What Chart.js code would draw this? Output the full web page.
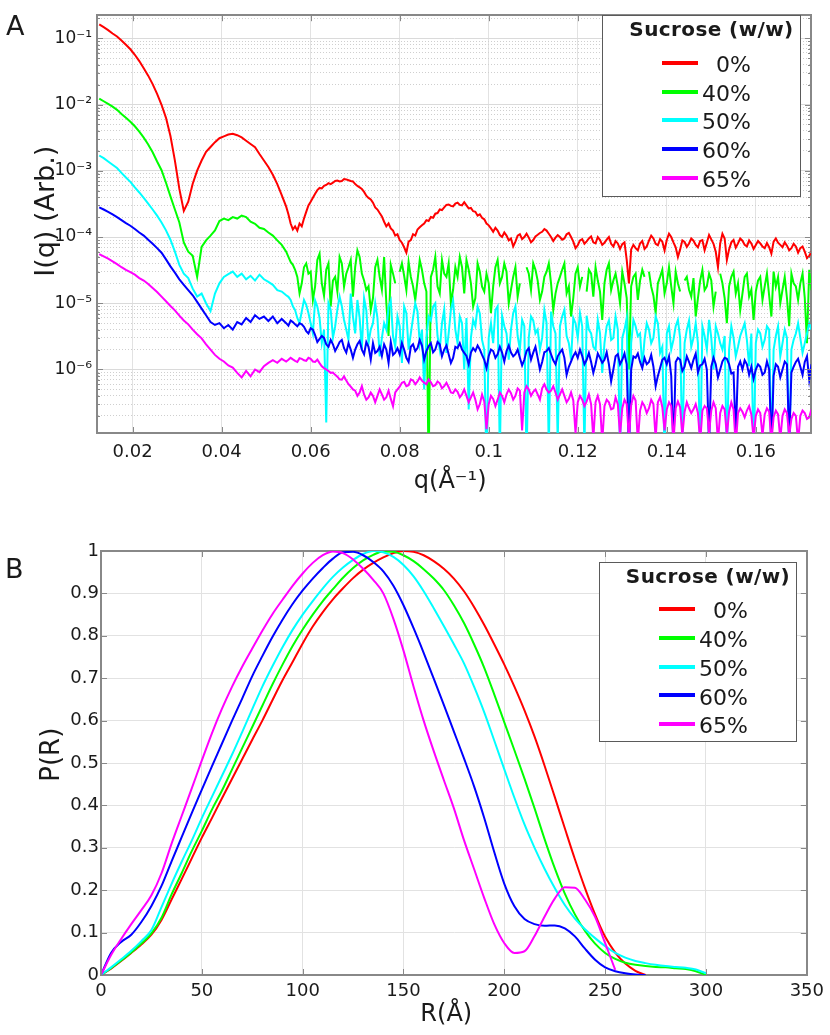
<!DOCTYPE html>
<html>
<head>
<meta charset="utf-8">
<script src="https://cdn.jsdelivr.net/npm/chart.js@4.4.1/dist/chart.umd.min.js"></script>
<style>
  html, body { margin: 0; padding: 0; background: #fff; }
  body { width: 830px; height: 1035px; position: relative; overflow: hidden;
         font-family: "DejaVu Sans", Verdana, sans-serif; color: #1a1a1a; }
  canvas { position: absolute; left: 0; }
  .panel { position: absolute; font-size: 27px; line-height: 1; }
  .lg-box { position: absolute; box-sizing: border-box; border: 1.5px solid #5a5a5a; background: #fff; }
  .lg-title { position: absolute; font-weight: bold; font-size: 20px; line-height: 1;
              letter-spacing: 0.4px; white-space: pre; text-align: center; }
  .lg-line { position: absolute; height: 4px; width: 36px; }
  .lg-text { position: absolute; font-size: 22px; line-height: 1; text-align: right; white-space: pre; }
</style>
</head>
<body>
<canvas id="chartA" width="830" height="500" style="top:0"></canvas>
<canvas id="chartB" width="830" height="500" style="top:535px"></canvas>
<div class="panel" style="left:6px;top:12px">A</div>
<div class="panel" style="left:5px;top:555px">B</div>
<script>
/* Two stacked panels: SAXS curves I(q) on a log axis, and the P(R) distributions. */

Chart.defaults.font.family = '"DejaVu Sans", Verdana, sans-serif';
Chart.defaults.color = "#1a1a1a";

const SERIES_LABELS = ["0%", "40%", "50%", "60%", "65%"];
const SERIES_COLORS = ["#ff0000", "#00ff00", "#00ffff", "#0000ff", "#ff00ff"];
const LEGEND_TITLE = "Sucrose (w/w)";

/* ---- Panel A data: q (1/Å) and intensity per sucrose level.
   Sampled every 0.001 up to 0.0545, every 0.0005 after (noisy part). ---- */
const Q = [
  0.0125,0.0135,0.0145,0.0155,0.0165,0.0175,0.0185,0.0195,0.0205,0.0215,
  0.0225,0.0235,0.0245,0.0255,0.0265,0.0275,0.0285,0.0295,0.0305,0.0315,
  0.0325,0.0335,0.0345,0.0355,0.0365,0.0375,0.0385,0.0395,0.0405,0.0415,
  0.0425,0.0435,0.0445,0.0455,0.0465,0.0475,0.0485,0.0495,0.0505,0.0515,
  0.0525,0.0535,0.0545,
  0.055,0.0555,0.056,0.0565,0.057,0.0575,0.058,0.0585,0.059,0.0595,
  0.060,0.0605,0.061,0.0615,0.062,0.0625,0.063,0.0635,0.064,0.0645,
  0.065,0.0655,0.066,0.0665,0.067,0.0675,0.068,0.0685,0.069,0.0695,
  0.070,0.0705,0.071,0.0715,0.072,0.0725,0.073,0.0735,0.074,0.0745,
  0.075,0.0755,0.076,0.0765,0.077,0.0775,0.078,0.0785,0.079,0.0795,
  0.080,0.0805,0.081,0.0815,0.082,0.0825,0.083,0.0835,0.084,0.0845,
  0.085,0.0855,0.086,0.0865,0.087,0.0875,0.088,0.0885,0.089,0.0895,
  0.090,0.0905,0.091,0.0915,0.092,0.0925,0.093,0.0935,0.094,0.0945,
  0.095,0.0955,0.096,0.0965,0.097,0.0975,0.098,0.0985,0.099,0.0995,
  0.100,0.1005,0.101,0.1015,0.102,0.1025,0.103,0.1035,0.104,0.1045,
  0.105,0.1055,0.106,0.1065,0.107,0.1075,0.108,0.1085,0.109,0.1095,
  0.110,0.1105,0.111,0.1115,0.112,0.1125,0.113,0.1135,0.114,0.1145,
  0.115,0.1155,0.116,0.1165,0.117,0.1175,0.118,0.1185,0.119,0.1195,
  0.120,0.1205,0.121,0.1215,0.122,0.1225,0.123,0.1235,0.124,0.1245,
  0.125,0.1255,0.126,0.1265,0.127,0.1275,0.128,0.1285,0.129,0.1295,
  0.130,0.1305,0.131,0.1315,0.132,0.1325,0.133,0.1335,0.134,0.1345,
  0.135,0.1355,0.136,0.1365,0.137,0.1375,0.138,0.1385,0.139,0.1395,
  0.140,0.1405,0.141,0.1415,0.142,0.1425,0.143,0.1435,0.144,0.1445,
  0.145,0.1455,0.146,0.1465,0.147,0.1475,0.148,0.1485,0.149,0.1495,
  0.150,0.1505,0.151,0.1515,0.152,0.1525,0.153,0.1535,0.154,0.1545,
  0.155,0.1555,0.156,0.1565,0.157,0.1575,0.158,0.1585,0.159,0.1595,
  0.160,0.1605,0.161,0.1615,0.162,0.1625,0.163,0.1635,0.164,0.1645,
  0.165,0.1655,0.166,0.1665,0.167,0.1675,0.168,0.1685,0.169,0.1695,
  0.170,0.1705,0.171,0.1715,0.172,0.1725
];
const I_0 = [
  0.1625,0.147,0.1325,0.1181,0.1063,0.0928,0.0798,0.0682,0.0564,0.0453,
  0.0353,0.0273,0.0203,0.01445,9.92e-3,6.3e-3,3.34e-3,1.42e-3,5.32e-4,2.48e-4,
  3.42e-4,6.37e-4,1.007e-3,1.43e-3,1.93e-3,2.28e-3,2.7e-3,3.1e-3,3.3e-3,3.52e-3,
  3.62e-3,3.44e-3,3.19e-3,2.84e-3,2.54e-3,2.27e-3,1.79e-3,1.43e-3,1.14e-3,8.7e-4,
  6.27e-4,4.3e-4,2.87e-4,
  2.2e-4,1.6e-4,1.3e-4,1.45e-4,1.25e-4,1.6e-4,1.45e-4,1.9e-4,2.4e-4,3.0e-4,
  3.4e-4,3.9e-4,4.5e-4,5.1e-4,5.5e-4,5.4e-4,5.9e-4,6.1e-4,6.5e-4,6.3e-4,
  6.6e-4,7.0e-4,7.1e-4,6.9e-4,7.0e-4,7.5e-4,7.4e-4,7.2e-4,7.0e-4,6.9e-4,
  6.3e-4,5.9e-4,5.6e-4,5.3e-4,4.8e-4,4.2e-4,3.9e-4,3.7e-4,3.3e-4,2.8e-4,
  2.6e-4,2.3e-4,2.05e-4,1.7e-4,1.45e-4,1.6e-4,1.35e-4,1.25e-4,1.05e-4,1.1e-4,
  9.0e-5,8.2e-5,7.0e-5,5.8e-5,8.5e-5,9.0e-5,1.1e-4,1.05e-4,1.3e-4,1.4e-4,
  1.5e-4,1.6e-4,1.8e-4,1.75e-4,2.0e-4,1.95e-4,2.25e-4,2.3e-4,2.6e-4,2.55e-4,
  2.8e-4,3.05e-4,3.1e-4,2.95e-4,2.9e-4,3.2e-4,3.3e-4,3.05e-4,3.0e-4,3.35e-4,
  3.0e-4,2.7e-4,2.75e-4,2.45e-4,2.4e-4,2.1e-4,2.2e-4,1.95e-4,1.85e-4,1.6e-4,
  1.5e-4,1.35e-4,1.2e-4,1.38e-4,1.25e-4,1.07e-4,1.0e-4,1.17e-4,1.05e-4,8.9e-5,
  9.5e-5,7.2e-5,8.5e-5,1.05e-4,1.1e-4,9.3e-5,1.0e-4,1.12e-4,9.8e-5,8.3e-5,
  9.0e-5,1.02e-4,1.08e-4,1.15e-4,1.2e-4,1.32e-4,1.25e-4,1.12e-4,1.0e-4,8.7e-5,
  9.8e-5,1.07e-4,1.0e-4,9.1e-5,9.5e-5,1.1e-4,1.15e-4,1.0e-4,8.5e-5,6.8e-5,
  7.5e-5,8.9e-5,9.3e-5,7.9e-5,8.6e-5,9.5e-5,1.02e-4,8.3e-5,8.0e-5,1.0e-4,
  9.0e-5,7.6e-5,8.2e-5,9.1e-5,1.0e-4,7.9e-5,7.2e-5,8.7e-5,8.0e-5,6.6e-5,
  7.8e-5,8.3e-5,4.5e-5,2.0e-5,6.5e-5,7.6e-5,6.8e-5,6.3e-5,8.0e-5,8.7e-5,
  6.6e-5,7.2e-5,8.8e-5,1.05e-4,9.5e-5,7.9e-5,7.5e-5,9.3e-5,8.5e-5,6.3e-5,
  9.0e-5,1.12e-4,1.0e-4,8.3e-5,7.0e-5,5.0e-5,6.5e-5,8.9e-5,8.4e-5,7.1e-5,
  8.0e-5,9.5e-5,8.8e-5,7.6e-5,7.0e-5,8.7e-5,9.0e-5,6.3e-5,8.2e-5,1.07e-4,
  9.2e-5,7.9e-5,6.0e-5,3.5e-5,8.0e-5,1.12e-4,9.5e-5,4.5e-5,6.5e-5,8.3e-5,
  9.0e-5,6.9e-5,8.0e-5,9.5e-5,8.8e-5,7.6e-5,7.2e-5,8.9e-5,8.0e-5,6.6e-5,
  7.6e-5,8.7e-5,8.0e-5,7.2e-5,6.8e-5,8.1e-5,7.0e-5,5.6e-5,8.5e-5,9.5e-5,
  8.2e-5,7.6e-5,7.0e-5,8.3e-5,7.4e-5,6.3e-5,6.8e-5,7.9e-5,7.2e-5,5.8e-5,
  6.8e-5,7.2e-5,6.0e-5,4.8e-5,5.2e-5,6.0e-5
];
const I_40 = [
  1.23e-2,1.12e-2,1.02e-2,9.3e-3,8.3e-3,7.2e-3,6.3e-3,5.5e-3,4.7e-3,3.9e-3,
  3.16e-3,2.5e-3,1.9e-3,1.38e-3,1.02e-3,6.6e-4,4.1e-4,2.6e-4,1.66e-4,8.3e-5,
  6.0e-5,5.2e-5,2.5e-5,7.1e-5,8.9e-5,1.05e-4,1.26e-4,1.74e-4,1.9e-4,1.8e-4,
  2.0e-4,1.9e-4,2.1e-4,2.0e-4,1.7e-4,1.58e-4,1.38e-4,1.32e-4,1.17e-4,1.05e-4,
  8.9e-5,7.6e-5,6.0e-5,
  5.0e-5,4.2e-5,3.8e-5,3.2e-5,2.5e-5,1.41e-5,2.0e-5,3.5e-5,4.0e-5,2.8e-5,
  3.0e-5,1.12e-5,1.8e-5,4.5e-5,5.6e-5,2.0e-5,1.3e-5,3.2e-5,4.0e-5,8.9e-6,
  2.2e-5,2.5e-5,1.5e-5,5.0e-5,4.0e-5,1.78e-5,2.8e-5,3.5e-5,4.5e-5,1.26e-5,
  3.5e-5,6.3e-5,5.0e-5,2.8e-5,2.2e-5,1.58e-5,1.8e-5,7.9e-6,1.2e-5,3.5e-5,
  4.5e-5,2.5e-5,1.6e-5,5.0e-5,1.0e-5,3.2e-6,3.8e-5,2.8e-5,2.0e-5,null,
  3.0e-5,4.0e-5,2.6e-5,1.58e-5,4.2e-5,2.5e-5,1.8e-5,1.12e-5,2.2e-5,4.5e-5,
  3.2e-5,2.0e-5,1.5e-5,3e-8,2.5e-5,3.2e-5,5.0e-5,1.78e-5,1.4e-5,4.5e-5,
  2.8e-5,2.5e-5,4.0e-5,1.0e-5,1.6e-5,3.5e-5,2.5e-5,5.0e-5,3.5e-5,1.41e-5,
  4.5e-5,3.2e-5,2.0e-5,8.9e-6,1.2e-5,4.0e-5,3.0e-5,1.78e-5,1.5e-5,2.8e-5,
  2.0e-5,7.1e-6,1.8e-5,3.5e-5,4.5e-5,2.0e-5,2.5e-5,4.0e-5,3.0e-5,1.0e-5,
  1.6e-5,2.5e-5,3.5e-5,1.26e-5,2.0e-5,null,null,3.5e-5,2.8e-5,1.58e-5,
  4.0e-5,3.2e-5,2.2e-5,1.12e-5,1.5e-5,2.5e-5,3.0e-5,4.0e-5,2.0e-5,7.9e-6,
  1.4e-5,2.0e-5,2.5e-5,3.2e-5,4.0e-5,1.41e-5,1.8e-5,6.3e-6,1.2e-5,2.8e-5,
  3.5e-5,1.78e-5,2.5e-5,null,1.5e-5,3.2e-5,2.8e-5,1.26e-5,3.5e-5,2.2e-5,
  1.5e-5,5.6e-6,2.0e-5,3.2e-5,4.0e-5,1.58e-5,2.2e-5,2.8e-5,1.8e-5,1.0e-5,
  3.0e-5,2.0e-5,1.2e-5,1.0e-6,1.8e-5,2.5e-5,2.8e-5,1.12e-5,2.2e-5,3.2e-5,
  2.5e-5,null,3.0e-5,1.78e-5,1.3e-5,7.1e-6,2.0e-5,2.5e-5,3.2e-5,1.41e-5,
  2.0e-5,3.5e-5,1.8e-5,1.0e-5,3.0e-5,2.0e-5,1.5e-5,null,2.2e-5,2.5e-5,
  1.6e-5,1.26e-5,2.4e-5,6.3e-6,1.2e-5,2.2e-5,3.2e-5,1.58e-5,1.8e-5,2.8e-5,
  2.2e-5,8.9e-6,1.5e-5,null,2.8e-5,2.0e-5,1.2e-5,5.0e-6,1.8e-5,2.5e-5,
  3.0e-5,1.41e-5,2.0e-5,7.9e-6,1.4e-5,2.5e-5,2.8e-5,1.26e-5,1.6e-5,5.6e-6,
  1.5e-5,2.2e-5,2.5e-5,1.12e-5,1.8e-5,2.8e-5,1.3e-5,6.3e-6,3.0e-5,1.78e-5,
  2.5e-5,1.0e-5,1.6e-5,2.5e-5,1.2e-5,4.5e-6,2.8e-5,2.0e-5,1.8e-5,1.12e-5,
  2.0e-5,2.8e-5,1.2e-5,2.5e-6,3.2e-5,1.58e-5
];
const I_50 = [
  1.7e-3,1.55e-3,1.38e-3,1.23e-3,1.1e-3,9.3e-4,7.9e-4,6.8e-4,5.6e-4,4.7e-4,
  3.9e-4,3.2e-4,2.6e-4,2.1e-4,1.66e-4,1.26e-4,9.1e-5,6.0e-5,3.8e-5,2.8e-5,
  2.4e-5,1.66e-5,1.26e-5,1.4e-5,1.0e-5,7.6e-6,1.4e-5,2.0e-5,2.5e-5,2.75e-5,
  3.0e-5,2.5e-5,2.8e-5,2.3e-5,2.6e-5,2.2e-5,2.7e-5,2.3e-5,2.1e-5,1.9e-5,
  1.58e-5,1.5e-5,1.32e-5,
  1.25e-5,1.12e-5,9.0e-6,7.9e-6,6.0e-6,5.0e-6,7.5e-6,1.12e-5,9.5e-6,7.1e-6,
  5.0e-6,3.5e-6,1.1e-5,8.9e-6,6.0e-6,2.5e-6,4.0e-6,1.58e-7,1.0e-5,7.9e-6,
  3.0e-6,4.5e-6,8.0e-6,1.26e-5,9.0e-6,5.6e-6,4.0e-6,2.8e-6,1.4e-5,6.3e-6,
  3.5e-6,1.12e-5,6.0e-6,2.0e-6,1.2e-5,7.9e-6,2.5e-6,4.0e-6,5.0e-6,1.0e-5,
  6.0e-6,1.58e-6,3.0e-6,5.0e-6,4.0e-6,8.9e-6,1.1e-5,3.2e-6,2.2e-6,6.3e-6,
  4.5e-6,1.26e-6,9.0e-6,7.1e-6,2.0e-6,3.5e-6,6.0e-6,1.0e-5,7.5e-6,2.5e-6,
  4.0e-6,5.0e-7,3.0e-6,6.3e-6,5.5e-6,8.9e-6,1.0e-5,3.2e-6,2.0e-6,5.0e-6,
  8.0e-6,1.78e-6,3.5e-6,7.9e-6,1.1e-5,4.0e-6,2.5e-6,6.3e-6,5.0e-6,1.0e-6,
  6.0e-6,2.5e-7,3.0e-6,5.6e-6,4.5e-6,8.9e-6,7.0e-6,2.8e-6,2.0e-6,3e-8,
  3.0e-6,5.0e-6,2.5e-6,7.9e-6,9.0e-6,5e-8,6.5e-6,4.5e-6,3.5e-6,1.41e-6,
  4.0e-6,7.1e-6,9.0e-6,3.2e-6,2.0e-6,5.6e-6,4.5e-6,4e-8,3.0e-6,6.3e-6,
  5.5e-6,3.5e-6,4.0e-6,2.0e-6,3.0e-6,7.9e-6,5.0e-6,6e-8,7.5e-6,4.5e-6,
  3.5e-6,8e-8,4.5e-6,6.3e-6,8.0e-6,3.2e-6,2.5e-6,1.41e-6,6.0e-6,5.0e-6,
  3.0e-6,7.1e-6,4.5e-6,6e-8,6.5e-6,4.0e-6,3.5e-6,2.2e-6,2.0e-6,5.6e-6,
  3.5e-6,8.9e-7,2.5e-6,4.5e-6,5.5e-6,2.8e-6,3.0e-6,6.3e-6,4.0e-6,5e-8,
  3.0e-6,4.0e-6,6.0e-6,5e-8,2.5e-6,5.6e-6,4.5e-6,3.2e-6,3.5e-6,1.12e-6,
  2.8e-6,5.0e-6,4.0e-6,2.5e-6,3.0e-6,6.3e-6,5.0e-6,1.78e-6,2.2e-6,5e-8,
  3.5e-6,4.5e-6,2.0e-6,2.8e-6,4.5e-6,5.6e-6,3.0e-6,6e-8,2.5e-6,4.0e-6,
  5.5e-6,2.2e-6,3.0e-6,5.0e-6,2.5e-6,4e-8,4.5e-6,3.2e-6,2.0e-6,5.6e-6,
  3.0e-6,1.0e-6,4.5e-6,3.5e-6,2.5e-6,2.0e-6,3.2e-6,4e-8,2.0e-6,4.5e-6,
  3.0e-6,1.58e-6,2.2e-6,3.2e-6,4.0e-6,5.0e-6,2.8e-6,1.12e-6,3.5e-6,4e-8,
  2.5e-6,4.0e-6,3.5e-6,2.2e-6,2.8e-6,4.5e-6,4.0e-6,5e-8,2.0e-6,3.2e-6,
  4.5e-6,1.58e-6,2.5e-6,4.0e-6,3.0e-6,5e-8,2.0e-6,2.8e-6,3.5e-6,5.0e-6,
  3.0e-6,1.78e-6,2.5e-6,3.5e-6,5.0e-6,4.0e-6
];
const I_60 = [
  2.8e-4,2.6e-4,2.4e-4,2.2e-4,2.0e-4,1.8e-4,1.62e-4,1.48e-4,1.32e-4,1.17e-4,
  1.05e-4,9.1e-5,7.9e-5,6.8e-5,5.8e-5,4.6e-5,3.6e-5,2.9e-5,2.3e-5,1.9e-5,
  1.58e-5,1.32e-5,1.05e-5,8.3e-6,6.6e-6,5.2e-6,4.7e-6,5.0e-6,4.2e-6,4.7e-6,
  4.0e-6,5.2e-6,4.8e-6,6.0e-6,5.2e-6,6.6e-6,5.8e-6,6.3e-6,5.4e-6,6.3e-6,
  5.0e-6,5.8e-6,5.0e-6,
  4.6e-6,5.5e-6,5.2e-6,4.8e-6,4.5e-6,5.0e-6,4.8e-6,4.4e-6,3.8e-6,3.5e-6,
  4.2e-6,4.0e-6,3.3e-6,2.6e-6,2.9e-6,3.2e-6,3.0e-6,2.4e-6,2.2e-6,2.8e-6,
  2.4e-6,1.9e-6,2.2e-6,2.6e-6,2.8e-6,2.1e-6,1.8e-6,2.5e-6,2.0e-6,1.5e-6,
  2.0e-6,2.4e-6,2.7e-6,2.0e-6,1.7e-6,2.6e-6,2.2e-6,1.41e-6,2.5e-6,1.78e-6,
  1.9e-6,2.2e-6,1.6e-6,2.4e-6,2.0e-6,1.26e-6,2.6e-6,1.66e-6,1.8e-6,2.1e-6,
  1.7e-6,2.5e-6,2.0e-6,1.5e-6,1.3e-6,2.2e-6,2.4e-6,1.9e-6,2.1e-6,2.8e-6,
  2.3e-6,1.41e-6,1.9e-6,2.24e-6,2.5e-6,1.82e-6,2.0e-6,2.6e-6,2.4e-6,1.58e-6,
  2.0e-6,2.3e-6,1.7e-6,1.26e-6,1.5e-6,2.2e-6,2.1e-6,2.5e-6,2.0e-6,1.78e-6,
  1.6e-6,1.2e-6,1.8e-6,2.1e-6,1.9e-6,2.3e-6,2.0e-6,1.66e-6,1.4e-6,1.05e-6,
  1.6e-6,2.0e-6,1.9e-6,1.5e-6,1.7e-6,2.2e-6,1.8e-6,1.32e-6,1.9e-6,2.3e-6,
  1.8e-6,1.58e-6,1.7e-6,2.0e-6,1.5e-6,1.15e-6,1.4e-6,1.9e-6,2.1e-6,1.41e-6,
  1.8e-6,2.2e-6,1.5e-6,1.0e-6,1.3e-6,1.82e-6,1.9e-6,2.1e-6,1.7e-6,1.38e-6,
  1.2e-6,1.58e-6,1.8e-6,2.0e-6,1.5e-6,8.3e-7,1.1e-6,1.32e-6,1.6e-6,1.82e-6,
  1.5e-6,2.0e-6,1.6e-6,1.2e-6,1.4e-6,1.78e-6,1.3e-6,8.9e-7,1.2e-6,1.74e-6,
  1.5e-6,1.26e-6,1.4e-6,1.82e-6,1.2e-6,6.6e-7,1.0e-6,1.58e-6,1.7e-6,1.2e-6,
  1.4e-6,1.74e-6,1.2e-6,6e-8,1.0e-6,1.58e-6,1.5e-6,1.74e-6,1.3e-6,1.05e-6,
  1.5e-6,1.2e-6,1.3e-6,1.66e-6,1.1e-6,5.6e-7,8.0e-7,1.05e-6,1.4e-6,1.5e-6,
  1.2e-6,1.58e-6,8.0e-7,6e-8,1.3e-6,1.5e-6,1.4e-6,9.5e-7,1.1e-6,1.58e-6,
  1.3e-6,1.05e-6,1.4e-6,1.74e-6,9.0e-7,1.15e-6,1.2e-6,1.45e-6,1.0e-6,7e-8,
  1.1e-6,1.5e-6,1.2e-6,7.6e-7,1.0e-6,1.32e-6,1.5e-6,1.45e-6,1.2e-6,8.7e-7,
  9.0e-7,1e-7,1.1e-6,1.32e-6,1.0e-6,1.38e-6,1.2e-6,8.3e-7,1.1e-6,7.2e-7,
  1.0e-6,1.2e-6,1.1e-6,8.3e-7,9.0e-7,1.32e-6,1.0e-6,6e-8,8.0e-7,1.2e-6,
  1.1e-6,7.6e-7,1.0e-6,1.32e-6,1.2e-6,8e-8,9.0e-7,1.1e-6,1.3e-6,1.45e-6,
  1.1e-6,8.3e-7,1.3e-6,1.58e-6,7.0e-7,1.2e-6
];
const I_65 = [
  5.5e-5,5.1e-5,4.7e-5,4.3e-5,3.9e-5,3.5e-5,3.2e-5,2.95e-5,2.7e-5,2.4e-5,
  2.2e-5,1.95e-5,1.7e-5,1.48e-5,1.26e-5,1.07e-5,9.1e-6,7.8e-6,6.5e-6,5.5e-6,
  4.8e-6,4.0e-6,3.4e-6,2.95e-6,2.4e-6,2.0e-6,1.66e-6,1.45e-6,1.32e-6,1.15e-6,
  1.07e-6,8.9e-7,7.6e-7,9.5e-7,7.9e-7,1.0e-6,9.1e-7,1.12e-6,1.26e-6,1.38e-6,
  1.26e-6,1.45e-6,1.32e-6,
  1.4e-6,1.5e-6,1.42e-6,1.35e-6,1.3e-6,1.48e-6,1.45e-6,1.38e-6,1.35e-6,1.5e-6,
  1.45e-6,1.32e-6,1.3e-6,1.41e-6,1.25e-6,1.12e-6,1.05e-6,1.0e-6,9.5e-7,8.9e-7,
  9.0e-7,8.3e-7,7.8e-7,7.1e-7,7.0e-7,7.9e-7,6.8e-7,6.0e-7,5.5e-7,5.0e-7,
  4.8e-7,4.0e-7,4.5e-7,5.6e-7,4.2e-7,3.5e-7,3.8e-7,4.5e-7,4.0e-7,3.2e-7,
  4.0e-7,5.0e-7,4.2e-7,3.5e-7,3.8e-7,4.8e-7,3.6e-7,2.8e-7,4.5e-7,5.0e-7,
  5.5e-7,6.3e-7,6.5e-7,5.6e-7,5.8e-7,7.1e-7,6.8e-7,6.0e-7,6.6e-7,7.6e-7,
  6.8e-7,6.3e-7,6.0e-7,7.1e-7,6.4e-7,5.6e-7,5.8e-7,6.6e-7,6.2e-7,5.2e-7,
  5.6e-7,6.3e-7,5.4e-7,4.5e-7,4.4e-7,5.0e-7,4.6e-7,3.8e-7,4.2e-7,5.0e-7,
  4.0e-7,3.2e-7,3.8e-7,4.5e-7,3.5e-7,2.5e-7,3.0e-7,4.2e-7,3.3e-7,1.26e-7,
  3.0e-7,4.0e-7,3.6e-7,2.8e-7,3.5e-7,4.5e-7,4.0e-7,3.2e-7,4.2e-7,5.0e-7,
  4.4e-7,3.5e-7,4.0e-7,5.2e-7,4.8e-7,1.2e-7,4.5e-7,5.6e-7,5.0e-7,4.0e-7,
  4.6e-7,5.0e-7,4.2e-7,3.5e-7,5.2e-7,6.0e-7,5.0e-7,4.5e-7,4.8e-7,5.6e-7,
  4.5e-7,3.5e-7,4.2e-7,5.0e-7,4.0e-7,3.2e-7,3.6e-7,4.5e-7,3.4e-7,1.1e-7,
  3.2e-7,4.0e-7,3.5e-7,2.8e-7,3.3e-7,4.2e-7,3.0e-7,9e-8,3.2e-7,4.0e-7,
  3.0e-7,8e-8,2.8e-7,3.5e-7,3.2e-7,2.5e-7,2.6e-7,3.8e-7,3.0e-7,1.0e-7,
  2.6e-7,3.5e-7,3.0e-7,9e-8,2.9e-7,4.0e-7,3.4e-7,8e-8,2.4e-7,3.2e-7,
  2.8e-7,2.2e-7,2.6e-7,3.5e-7,3.0e-7,9e-8,3.2e-7,3.8e-7,2.7e-7,1.2e-7,
  2.5e-7,3.2e-7,2.8e-7,8e-8,2.6e-7,3.3e-7,2.7e-7,1.0e-7,2.3e-7,3.2e-7,
  2.6e-7,2.2e-7,2.5e-7,3.0e-7,2.2e-7,8e-8,2.4e-7,2.8e-7,2.6e-7,1.1e-7,
  2.4e-7,3.2e-7,2.6e-7,8e-8,2.2e-7,2.8e-7,2.5e-7,1.0e-7,2.3e-7,3.2e-7,
  2.5e-7,7e-8,2.2e-7,2.6e-7,2.3e-7,1.9e-7,2.4e-7,2.8e-7,2.1e-7,9e-8,
  2.0e-7,2.5e-7,2.2e-7,1.0e-7,2.1e-7,2.6e-7,2.3e-7,8e-8,1.9e-7,2.4e-7,
  2.1e-7,9e-8,2.0e-7,2.5e-7,2.2e-7,1.0e-7,1.8e-7,2.2e-7,2.0e-7,8e-8,
  2.0e-7,2.4e-7,2.2e-7,1.8e-7,1.9e-7,2.5e-7
];
const A_X_MIN = 0.012, A_X_MAX = 0.1724;
const A_Y_MIN = 1.1e-7, A_Y_MAX = 0.223;
const A_X_TICKS = [0.02, 0.04, 0.06, 0.08, 0.1, 0.12, 0.14, 0.16];
const A_Y_MAJOR = [1e-6, 1e-5, 1e-4, 1e-3, 1e-2, 1e-1];
const A_Y_LABELS = ["10⁻⁶", "10⁻⁵", "10⁻⁴", "10⁻³", "10⁻²", "10⁻¹"];

/* ---- Panel B data: R (Å) and normalised P(R) ---- */
const R = [
  0,5,10,15,20,25,30,35,40,45,50,55,60,65,70,75,80,85,90,95,
  100,105,110,115,120,125,130,135,140,145,150,155,160,165,170,175,180,185,190,195,
  200,205,210,215,220,225,230,235,240,245,250,255,260,265,270,275,280,285,290,295,
  300
];
const P_0 = [
  0,0.015,0.033,0.052,0.072,0.095,0.13,0.178,0.226,0.275,0.324,0.37,0.417,0.463,0.509,0.555,0.6,0.648,0.695,0.738,
  0.782,0.822,0.856,0.886,0.912,0.936,0.956,0.972,0.985,0.995,1.0,0.998,0.99,0.976,0.958,0.935,0.905,0.868,0.826,0.78,
  0.732,0.68,0.624,0.562,0.493,0.42,0.346,0.273,0.205,0.143,0.09,0.053,0.027,0.01,0,null,null,null,null,null,
  null
];
const P_40 = [
  0,0.016,0.034,0.053,0.074,0.098,0.135,0.19,0.24,0.292,0.34,0.39,0.435,0.485,0.535,0.585,0.635,0.685,0.732,0.776,
  0.815,0.85,0.882,0.91,0.937,0.96,0.978,0.991,0.999,0.998,0.99,0.976,0.957,0.935,0.908,0.872,0.83,0.78,0.725,0.662,
  0.596,0.53,0.463,0.393,0.32,0.252,0.192,0.143,0.104,0.074,0.052,0.038,0.029,0.024,0.021,0.019,0.018,0.016,0.014,0.009,
  0
];
const P_50 = [
  0,0.018,0.037,0.057,0.08,0.106,0.16,0.215,0.267,0.317,0.37,0.42,0.47,0.52,0.573,0.627,0.68,0.728,0.773,0.814,
  0.85,0.882,0.912,0.939,0.961,0.979,0.993,1.0,0.997,0.986,0.967,0.94,0.905,0.865,0.823,0.78,0.735,0.68,0.62,0.553,
  0.485,0.418,0.355,0.3,0.25,0.205,0.165,0.133,0.108,0.087,0.068,0.052,0.041,0.033,0.028,0.024,0.021,0.019,0.017,0.013,
  0.004
];
const P_60 = [
  0,0.052,0.078,0.095,0.125,0.163,0.21,0.268,0.325,0.382,0.437,0.492,0.546,0.6,0.652,0.705,0.752,0.797,0.838,0.875,
  0.907,0.935,0.96,0.982,0.997,0.998,0.99,0.974,0.952,0.918,0.872,0.818,0.76,0.699,0.637,0.574,0.511,0.445,0.371,0.29,
  0.215,0.162,0.132,0.12,0.116,0.117,0.11,0.091,0.062,0.036,0.018,0.009,0.004,0.001,0,null,null,null,null,null,
  null
];
const P_65 = [
  0,0.047,0.085,0.12,0.153,0.188,0.24,0.31,0.375,0.44,0.506,0.57,0.628,0.68,0.727,0.77,0.812,0.851,0.885,0.918,
  0.947,0.972,0.99,0.999,0.995,0.98,0.958,0.932,0.9,0.84,0.765,0.68,0.6,0.528,0.46,0.393,0.318,0.25,0.182,0.12,
  0.075,0.052,0.056,0.092,0.138,0.18,0.207,0.206,0.178,0.137,0.075,0.012,null,null,null,null,null,null,null,null,
  null
];

/* ---- shared styling ---- */
const AXIS_GREY = "#888888";
const GRID_GREY = "#e2e2e2";

function frameAxis(pos) {
  // plain box edge on the top / right, like the MATLAB frame
  return {
    type: "linear", position: pos, display: true,
    grid: { drawOnChartArea: false, drawTicks: false },
    border: { color: AXIS_GREY, width: 2 },
    ticks: { display: false },
    afterFit: (s) => { if (pos === "top") s.height = 0; else s.width = 0; },
  };
}

function lineSets(series, extra) {
  return series.map((d, i) => Object.assign({
    label: SERIES_LABELS[i], data: d, borderColor: SERIES_COLORS[i], backgroundColor: SERIES_COLORS[i],
    borderWidth: 2, pointRadius: 0, fill: false, order: series.length - i,
  }, extra));
}

/* ---- Panel A ---- */
const A_Y_GRID = [];
for (let e = -7; e <= -1; e++) {
  for (let m = 1; m <= 9; m++) {
    const v = m * Math.pow(10, e);
    if (v >= A_Y_MIN && v <= A_Y_MAX) A_Y_GRID.push(v);
  }
}
function majorIndex(v) { return A_Y_MAJOR.findIndex((m) => Math.abs(v / m - 1) < 1e-6); }

// short inward tick marks on all four sides of the box
const innerTicks = {
  id: "innerTicks",
  afterDraw(chart) {
    const { ctx, chartArea: a, scales } = chart;
    const logY = scales.y.type === "logarithmic";
    ctx.save();
    ctx.strokeStyle = AXIS_GREY;
    ctx.lineWidth = 1;
    ctx.beginPath();
    scales.x.ticks.forEach((t) => {
      const x = Math.round(scales.x.getPixelForValue(t.value)) + 0.5;
      ctx.moveTo(x, a.bottom); ctx.lineTo(x, a.bottom - 6);
      ctx.moveTo(x, a.top); ctx.lineTo(x, a.top + 6);
    });
    scales.y.ticks.forEach((t) => {
      const y = Math.round(scales.y.getPixelForValue(t.value)) + 0.5;
      const len = logY && majorIndex(t.value) < 0 ? 3 : 6;
      ctx.moveTo(a.left, y); ctx.lineTo(a.left + len, y);
      ctx.moveTo(a.right, y); ctx.lineTo(a.right - len, y);
    });
    ctx.stroke();
    ctx.restore();
  },
};

new Chart(document.getElementById("chartA"), {
  type: "line",
  data: { labels: Q, datasets: lineSets([I_0, I_40, I_50, I_60, I_65], { tension: 0, spanGaps: false }) },
  plugins: [innerTicks],
  options: {
    responsive: false, animation: false, devicePixelRatio: 1,
    layout: { padding: { top: 5, right: 19, bottom: 0, left: 0 } },
    plugins: { legend: { display: false }, tooltip: { enabled: false } },
    scales: {
      x: {
        type: "linear", min: A_X_MIN, max: A_X_MAX,
        afterBuildTicks: (s) => { s.ticks = A_X_TICKS.map((v) => ({ value: v })); },
        afterFit: (s) => { s.height = 67; },
        ticks: { font: { size: 18 }, padding: 9, autoSkip: false, maxRotation: 0,
                 callback: (v) => String(+Number(v).toFixed(2)) },
        grid: { color: GRID_GREY, drawTicks: false },
        border: { color: AXIS_GREY, width: 2 },
        title: { display: true, text: "q(Å⁻¹) ", font: { size: 24 }, padding: { top: 0, bottom: 4 } },
      },
      y: {
        type: "logarithmic", min: A_Y_MIN, max: A_Y_MAX,
        afterBuildTicks: (s) => { s.ticks = A_Y_GRID.map((v) => ({ value: v })); },
        afterFit: (s) => { s.width = 97; },
        ticks: { font: { size: 17 }, padding: 5, autoSkip: false,
                 callback: (v) => { const i = majorIndex(v); return i >= 0 ? A_Y_LABELS[i] : ""; } },
        grid: { drawTicks: false,
                color: (c) => (c.tick && majorIndex(c.tick.value) >= 0 ? "#dadada" : "#cfcfcf") },
        border: { color: AXIS_GREY, width: 2,
                  dash: (c) => (c.tick && majorIndex(c.tick.value) < 0 ? [1, 2] : []) },
        title: { display: true, text: "   I(q) (Arb.)", font: { size: 27 }, padding: { top: 31, bottom: 0 } },
      },
      x2: frameAxis("top"),
      y2: frameAxis("right"),
    },
  },
});

/* ---- Panel B ---- */
new Chart(document.getElementById("chartB"), {
  type: "line",
  data: { labels: R, datasets: lineSets([P_0, P_40, P_50, P_60, P_65], { cubicInterpolationMode: "monotone" }) },
  plugins: [innerTicks],
  options: {
    responsive: false, animation: false, devicePixelRatio: 1,
    layout: { padding: { top: 16, right: 22, bottom: 0, left: 0 } },
    plugins: { legend: { display: false }, tooltip: { enabled: false } },
    scales: {
      x: {
        type: "linear", min: 0, max: 350,
        afterFit: (s) => { s.height = 60; },
        ticks: { stepSize: 50, font: { size: 18 }, padding: 6, maxRotation: 0, callback: (v) => String(v) },
        grid: { color: GRID_GREY, drawTicks: false },
        border: { color: AXIS_GREY, width: 2 },
        title: { display: true, text: "R(Å)  ", font: { size: 24 }, padding: { top: 0, bottom: 6 } },
      },
      y: {
        min: 0, max: 1,
        afterFit: (s) => { s.width = 101; },
        ticks: { stepSize: 0.1, font: { size: 18 }, padding: 2, callback: (v) => String(+Number(v).toFixed(1)) },
        grid: { color: GRID_GREY, drawTicks: false },
        border: { color: AXIS_GREY, width: 2 },
        title: { display: true, text: "  P(R)", font: { size: 26 }, padding: { top: 37, bottom: 0 } },
      },
      x2: frameAxis("top"),
      y2: frameAxis("right"),
    },
  },
});

/* ---- in-plot legends (HTML, placed over the chart areas) ---- */
function addLegend(box, titleTop, rowYs, lineLeft, textRight) {
  const el = (cls, css, text) => {
    const d = document.createElement("div");
    d.className = cls;
    Object.assign(d.style, css);
    if (text !== undefined) d.textContent = text;
    document.body.appendChild(d);
    return d;
  };
  el("lg-box", { left: box.x + "px", top: box.y + "px", width: box.w + "px", height: box.h + "px" });
  el("lg-title", { left: (box.x + 10) + "px", top: titleTop + "px", width: box.w + "px" }, LEGEND_TITLE);
  SERIES_LABELS.forEach((lab, i) => {
    const y = rowYs[i];
    el("lg-line", { left: lineLeft + "px", top: (y - 2) + "px", background: SERIES_COLORS[i] });
    el("lg-text", { left: (textRight - 60) + "px", top: (y - 8.6) + "px", width: "60px" }, lab);
  });
}
addLegend({ x: 602, y: 15, w: 199, h: 182 }, 19, [63, 92, 120, 149, 178], 662, 751);
addLegend({ x: 599, y: 562, w: 198, h: 180 }, 566, [608.7, 637.7, 666.7, 695.3, 724], 659, 748);
</script>
</body>
</html>
